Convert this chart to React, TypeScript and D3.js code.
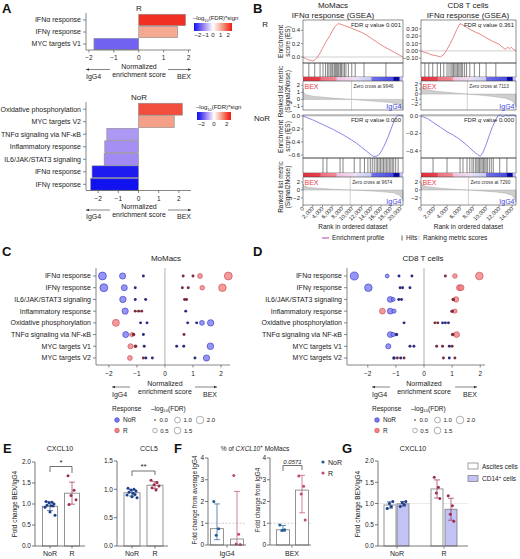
import React from "react";
import * as d3 from "d3";

const FONT = "'Liberation Sans', Arial, Helvetica, sans-serif";
const AX = "#555";

// ---------------- Panel A data ----------------
const aRTerms = ["IFNα response", "IFNγ response", "MYC targets V1"];
const aRNes = [1.88, 1.56, -1.8];
const aRSig = [2.3, 1.1, -1.6];
const aNoRTerms = [
  "Oxidative phosphorylation",
  "MYC targets V2",
  "TNFα signaling via NF-κB",
  "Inflammatory response",
  "IL6/JAK/STAT3 signaling",
  "IFNα response",
  "IFNγ response",
];
const aNoRNes = [2.17, 1.77, -1.57, -1.67, -1.7, -2.3, -2.37];
const aNoRSig = [2.0, 1.2, -1.0, -1.1, -1.15, -2.4, -2.5];
const aTicks = [-2, -1, 0, 1, 2];
const aLegTicksR = [-2, -1, 0, 1, 2];
const aLegTicksNoR = [-2, 0, 2];

// ---------------- Panel B data (GSEA) ----------------
const moRankMax = 20500;
const cd8RankMax = 14600;
const moRankTicks = [0, 2000, 4000, 6000, 8000, 10000, 12000, 14000, 16000, 18000, 20000];
const cd8RankTicks = [0, 2000, 4000, 6000, 8000, 10000, 12000, 14000];

const esRMo = [
  [0, 0], [500, -0.02], [1000, -0.04], [1500, -0.05], [2000, -0.06], [2500, -0.04], [3000, 0.0],
  [3500, 0.06], [4000, 0.13], [4500, 0.2], [5000, 0.26], [5500, 0.32], [6000, 0.39], [6500, 0.45],
  [7000, 0.49], [7300, 0.5], [7800, 0.49], [8500, 0.47], [9000, 0.46], [10000, 0.43], [11000, 0.4],
  [12000, 0.37], [13000, 0.33], [14000, 0.28], [15000, 0.23], [16000, 0.18], [17000, 0.14],
  [18000, 0.1], [19000, 0.06], [20000, 0.02], [20500, 0],
];
const esRCd8 = [
  [0, 0], [500, -0.02], [1000, -0.03], [1500, -0.05], [2000, -0.06], [2500, -0.07], [3000, -0.08],
  [3500, -0.05], [4000, 0.02], [4500, 0.1], [5000, 0.19], [5500, 0.29], [6000, 0.37], [6300, 0.36],
  [7000, 0.32], [8000, 0.27], [9000, 0.23], [10000, 0.18], [11000, 0.13], [12000, 0.09],
  [12500, 0.05], [13000, 0.02], [13300, 0.05], [13600, 0.03], [13900, 0.05], [14200, 0.02], [14600, 0],
];
const esNoRMo = [
  [0, 0], [2000, -0.06], [4000, -0.13], [6000, -0.2], [8000, -0.28], [10000, -0.37], [11000, -0.42],
  [12000, -0.48], [13000, -0.54], [14000, -0.6], [14500, -0.62], [15000, -0.62], [15500, -0.6],
  [16000, -0.55], [16500, -0.48], [17000, -0.4], [17500, -0.31], [18000, -0.21], [18500, -0.11],
  [19000, -0.03], [19300, 0.0], [19600, 0.01], [20000, 0.005], [20500, 0],
];
const esNoRCd8 = [
  [0, 0], [1000, -0.03], [2000, -0.08], [3000, -0.13], [4000, -0.18], [5000, -0.22], [6000, -0.27],
  [7000, -0.33], [8000, -0.4], [8700, -0.44], [9100, -0.46], [9500, -0.42], [10000, -0.33],
  [10500, -0.22], [11000, -0.12], [11500, -0.04], [11800, 0.0], [12200, 0.01], [12600, -0.01],
  [13000, 0.01], [13500, 0.0], [14000, 0.01], [14600, 0],
];
const hitsRMo = [1200, 2400, 3500, 4100, 4600, 5000, 5300, 5600, 5900, 6100, 6400, 6600, 6800, 7000,
  7200, 7400, 7700, 7900, 8200, 8500, 8800, 9300, 10000, 10700, 12500, 17000];
const hitsRCd8 = [600, 1200, 1800, 2500, 3000, 3500, 4000, 4300, 4600, 4800, 5000, 5200, 5400, 5600,
  5800, 6000, 6200, 6400, 6700, 7000, 7500, 8200, 9000, 10000, 11500];
const hitsNoRMo = [4100, 4900, 7600, 8200, 10500, 11700, 12600, 13300, 13800, 14200, 14600, 15000,
  15300, 15600, 15900, 16200, 16500, 16800, 17100, 17400, 17700, 18000, 18300, 18600, 19000, 19500];
const hitsNoRCd8 = [1850, 4000, 6000, 6450, 7070, 7500, 7840, 8100, 8400, 8600, 8800, 9000, 9200,
  9400, 9600, 9800, 10000, 10200, 10500, 10800, 11100, 12100, 13200];
const metRMo = [[0, 1.6], [100, 1.0], [500, 0.7], [2000, 0.45], [5000, 0.25], [8000, 0.08], [9946, 0],
  [12000, -0.12], [15000, -0.28], [18000, -0.45], [19500, -0.7], [20200, -1.2], [20500, -1.5]];
const metRCd8 = [[0, 2.3], [100, 1.5], [500, 1.0], [2000, 0.6], [4000, 0.35], [6000, 0.12], [7113, 0],
  [9000, -0.2], [11000, -0.45], [13000, -0.8], [14000, -1.3], [14400, -2.0], [14600, -2.5]];
const metNoRMo = [[0, 1.5], [200, 1.0], [1000, 0.7], [3000, 0.45], [6000, 0.2], [9674, 0], [13000, -0.2],
  [16000, -0.4], [18500, -0.7], [19800, -1.3], [20300, -2.2], [20500, -2.8]];
const metNoRCd8 = [[0, 1.8], [200, 1.2], [1000, 0.8], [3000, 0.45], [5500, 0.15], [7290, 0], [9500, -0.25],
  [11500, -0.5], [13000, -0.8], [14000, -1.3], [14400, -2.3], [14600, -3.0]];

// ---------------- Panels C / D data ----------------
const dTerms = [
  "IFNα response", "IFNγ response", "IL6/JAK/STAT3 signaling", "Inflammatory response",
  "Oxidative phosphorylation", "TNFα signaling via NF-κB", "MYC targets V1", "MYC targets V2",
];
// [term index, NES, -log10(FDR), group 0=NoR 1=R]
const cDots = [
  [0, -2.23, 2.2, 0], [0, -1.51, 1.2, 0], [0, -0.77, 0.1, 0], [0, 0.65, 0.1, 1], [0, 1.0, 0.1, 1], [0, 1.25, 0.6, 1], [0, 2.26, 2.2, 1],
  [1, -2.18, 2.2, 0], [1, -1.45, 1.1, 0], [1, -1.06, 0.1, 0], [1, 0.62, 0.1, 1], [1, 0.83, 0.1, 1], [1, 1.33, 0.5, 1], [1, 2.05, 2.0, 1],
  [2, -1.5, 1.3, 0], [2, -1.06, 0.1, 0], [2, -0.69, 0.1, 0], [2, 0.7, 0.1, 1], [2, 0.77, 0.1, 1],
  [3, -1.42, 1.2, 0], [3, -1.06, 0.1, 1], [3, -0.94, 0.1, 1], [3, -0.83, 0.1, 1], [3, 0.74, 0.1, 0],
  [4, -1.75, 1.6, 1], [4, -0.87, 0.1, 0], [4, -0.64, 0.1, 0], [4, 0.81, 0.1, 0], [4, 1.13, 0.1, 0], [4, 1.32, 0.6, 0], [4, 1.63, 1.3, 0],
  [5, -1.4, 1.1, 0], [5, -1.18, 0.4, 1], [5, -1.12, 0.2, 1], [5, -0.77, 0.1, 0], [5, 0.68, 0.1, 1],
  [6, -1.23, 0.7, 1], [6, -1.05, 0.2, 1], [6, -0.74, 0.1, 0], [6, 0.42, 0.1, 0], [6, 0.67, 0.1, 0], [6, 1.62, 1.4, 0],
  [7, -1.25, 0.6, 1], [7, -0.77, 0.1, 1], [7, -0.68, 0.1, 0], [7, -0.45, 0.1, 0], [7, 1.07, 0.1, 0], [7, 1.48, 1.2, 0],
];
const dDots = [
  [0, -2.48, 2.3, 0], [0, -1.31, 0.3, 0], [0, -0.89, 0.1, 0], [0, -0.43, 0.1, 0], [0, 0.76, 0.1, 1], [0, 1.1, 0.5, 1], [0, 1.97, 2.0, 1],
  [1, -1.98, 2.0, 0], [1, -0.85, 0.1, 0], [1, -0.76, 0.1, 0], [1, -0.5, 0.1, 0], [1, 1.26, 1.0, 1], [1, 1.32, 1.0, 1],
  [2, -1.2, 1.0, 0], [2, -1.1, 0.3, 0], [2, -0.9, 0.1, 0], [2, -0.8, 0.1, 0], [2, 1.04, 0.2, 1], [2, 1.14, 0.8, 1],
  [3, -1.48, 1.0, 1], [3, -1.2, 1.0, 0], [3, -1.07, 0.4, 0], [3, 1.0, 0.2, 1], [3, 1.1, 0.4, 1],
  [4, -0.71, 0.1, 0], [4, 0.39, 0.1, 1], [4, 0.49, 0.1, 1], [4, 0.66, 0.1, 0], [4, 0.76, 0.1, 0], [4, 0.87, 0.1, 0],
  [5, -1.2, 1.0, 0], [5, -1.1, 0.4, 0], [5, -0.98, 0.2, 0], [5, 1.02, 0.2, 1], [5, 1.16, 1.0, 1],
  [6, -1.27, 0.7, 0], [6, -0.5, 0.1, 0], [6, -0.36, 0.1, 0], [6, 0.45, 0.1, 1], [6, 0.66, 0.1, 1], [6, 0.9, 0.1, 0], [6, 1.0, 0.1, 1],
  [7, -1.07, 0.2, 0], [7, -0.95, 0.1, 1], [7, -0.83, 0.1, 0], [7, -0.71, 0.1, 1], [7, 0.69, 0.1, 1], [7, 0.9, 0.1, 0], [7, 1.1, 0.1, 1],
];
const sizeLegendRow1 = [0.0, 1.0, 2.0];
const sizeLegendRow2 = [0.5, 1.5];

// ---------------- Panels E / F / G data ----------------
const eCxcl10NoR = [1.06, 1.04, 1.03, 1.0, 0.97, 0.96, 0.95, 0.92, 0.81, 0.73];
const eCxcl10R = [1.67, 1.33, 1.2, 1.1, 0.99];
const eCcl5NoR = [1.02, 1.0, 0.99, 0.97, 0.95, 0.93, 0.91, 0.9, 0.87, 0.85];
const eCcl5R = [1.16, 1.12, 1.08, 1.06, 1.03, 0.99];
const fIgg4NoR = [2.0, 0.75, 0.45];
const fIgg4R = [3.2, 0.5, 0.05, 0.02];
const fBexNoR = [0.92, 0.7, 0.68];
const fBexR = [3.17, 2.7, 2.35, 1.15];
const gNoRAscites = [0.88, 0.93, 1.0, 1.05];
const gNoRCd14 = [0.93, 0.97, 1.02, 1.05];
const gRAscites = [1.62, 1.38, 1.25, 1.12];
const gRCd14 = [1.18, 0.95, 0.75, 0.58];
const eTicks2 = [0, 0.5, 1, 1.5, 2];
const eTicks15 = [0, 0.5, 1, 1.5];
const fTicks = [0, 1, 2, 3, 4];

const jitter = [-4, 2, -1, 4, -3, 1, 3, -5, 0, 5, -2];

const sigColor = d3
  .scaleLinear()
  .domain([-2.5, -1.2, 0, 1.2, 2.5])
  .range(["#1212f0", "#9d85f2", "#ffffff", "#f4a088", "#f01a10"] as any)
  .clamp(true) as any;

const NOR_C = "#1d3f8a";
const R_C = "#9c2f4c";

function Arrow({ x1, x2, y }: any) {
  const d = x2 > x1 ? 1 : -1;
  return (
    <g>
      <line x1={x1} x2={x2} y1={y} y2={y} stroke="#333" strokeWidth={0.6} />
      <path d={`M${x2},${y} l${-d * 3},-1.3 l0,2.6 z`} fill="#333" />
    </g>
  );
}

function Log10Label({ x, y, suffix, fs = 6.5, anchor = "start" }: any) {
  return (
    <text x={x} y={y} fontSize={fs} textAnchor={anchor}>
      –log<tspan fontSize={fs * 0.65} dy={1.5}>10</tspan>
      <tspan dy={-1.5}>{suffix}</tspan>
    </text>
  );
}

function BarEnrich(p: any) {
  const { terms, nes, sig, title, yTop, yBot, xDomain, legX0, legX1, legY, legDomain, legTicks, gid } = p;
  const x = d3.scaleLinear().domain(xDomain).range([86, 191]);
  const y = d3.scaleBand().domain(terms).range([yTop, yBot]).paddingInner(0.05).paddingOuter(0.02);
  const lx = d3.scaleLinear().domain(legDomain).range([legX0, legX1]);
  const stops = d3.range(0, 1.0001, 0.1).map((f: number) => ({
    f,
    c: sigColor(legDomain[0] + f * (legDomain[1] - legDomain[0])),
  }));
  const bw = y.bandwidth();
  return (
    <g>
      <defs>
        <linearGradient id={gid} x1="0" x2="1" y1="0" y2="0">
          {stops.map((s: any) => (
            <stop key={s.f} offset={s.f} stopColor={s.c} />
          ))}
        </linearGradient>
      </defs>
      <text x={139} y={yTop - 3.5} textAnchor="middle" fontSize={8}>{title}</text>
      {terms.map((t: string, i: number) => (
        <rect key={t} x={Math.min(x(0), x(nes[i]))} y={y(t)} width={Math.abs(x(nes[i]) - x(0))} height={bw}
          fill={sigColor(sig[i])} stroke="#8c8c8c" strokeWidth={0.6} />
      ))}
      <line x1={86} x2={86} y1={yTop - 1} y2={yBot} stroke={AX} strokeWidth={0.7} />
      {terms.map((t: string) => (
        <g key={t}>
          <line x1={83} x2={86} y1={y(t)! + bw / 2} y2={y(t)! + bw / 2} stroke={AX} strokeWidth={0.7} />
          <text x={81} y={y(t)! + bw / 2 + 2.4} textAnchor="end" fontSize={7}>{t}</text>
        </g>
      ))}
      <line x1={86} x2={191} y1={yBot} y2={yBot} stroke={AX} strokeWidth={0.7} />
      {aTicks.map((t) => (
        <g key={t}>
          <line x1={x(t)} x2={x(t)} y1={yBot} y2={yBot + 2.5} stroke={AX} strokeWidth={0.7} />
          <text x={x(t)} y={yBot + 10} textAnchor="middle" fontSize={6.5}>{t < 0 ? "−" + -t : t}</text>
        </g>
      ))}
      <text x={139} y={yBot + 18.5} textAnchor="middle" fontSize={7}>Normalized</text>
      <text x={139} y={yBot + 26.5} textAnchor="middle" fontSize={7}>enrichment score</text>
      <Arrow x1={110} x2={86} y={yBot + 19.5} />
      <Arrow x1={168} x2={191} y={yBot + 19.5} />
      <text x={86} y={yBot + 28.5} fontSize={7}>IgG4</text>
      <text x={191} y={yBot + 28.5} textAnchor="end" fontSize={7}>BEX</text>
      <Log10Label x={legX0 - 1} y={legY} suffix="(FDR)*sign" fs={6} />
      <rect x={legX0} y={legY + 3} width={legX1 - legX0} height={8} fill={`url(#${gid})`} />
      {legTicks.map((t: number) => (
        <text key={t} x={lx(t)} y={legY + 17} textAnchor="middle" fontSize={6}>{t < 0 ? "−" + -t : t}</text>
      ))}
    </g>
  );
}

const rankStops: [number, string][] = [
  [0, "#e0303a"], [0.17, "#e84050"], [0.18, "#f07080"], [0.33, "#f08894"], [0.34, "#f0c0e0"],
  [0.53, "#f0e0f0"], [0.54, "#e0e0f8"], [0.68, "#c8c8f4"], [0.69, "#7070e8"], [0.9, "#4a4ae0"],
  [0.91, "#0808a0"], [0.96, "#0808a0"], [0.97, "#c0c0f0"], [1, "#c0c0f0"],
];

function Gsea(p: any) {
  const { x0, x1, xMax, esTop, esBot, hitsBot, colBot, metBot, esDomain, esTicks, esFmt, metDomain, metTicks,
    curve, hits, metric, zeroCross, fdr, lineColor, xTicks, yTitles } = p;
  const xs = d3.scaleLinear().domain([0, xMax]).range([x0, x1]);
  const ys = d3.scaleLinear().domain(esDomain).range([esBot, esTop]);
  const ms = d3.scaleLinear().domain(metDomain).range([metBot, colBot]);
  const line = d3.line().x((d: any) => xs(d[0])).y((d: any) => ys(d[1]));
  const area = d3.area().x((d: any) => xs(d[0])).y0(ms(0)).y1((d: any) => ms(d[1]));
  const fmt = d3.format(esFmt);
  const w = x1 - x0;
  return (
    <g>
      <line x1={x0} x2={x1} y1={ys(0)} y2={ys(0)} stroke="#b0b0b0" strokeWidth={0.6} />
      <path d={line(curve as any) as string} fill="none" stroke={lineColor} strokeWidth={0.8} />
      <rect x={x0} y={esTop} width={w} height={esBot - esTop} fill="none" stroke="#444" strokeWidth={0.6} />
      <text x={x1 - 2} y={esTop + 7} textAnchor="end" fontSize={6}>FDR <tspan fontStyle="italic">q</tspan> value {fdr}</text>
      {esTicks.map((t: number) => (
        <g key={t}>
          <line x1={x0 - 2} x2={x0} y1={ys(t)} y2={ys(t)} stroke={AX} strokeWidth={0.6} />
          <text x={x0 - 3} y={ys(t) + 2} textAnchor="end" fontSize={6}>{fmt(t)}</text>
        </g>
      ))}
      {hits.map((h: number, i: number) => (
        <line key={i} x1={xs(h)} x2={xs(h)} y1={esBot} y2={hitsBot} stroke="#222" strokeWidth={0.55} />
      ))}
      <rect x={x0} y={esBot} width={w} height={hitsBot - esBot} fill="none" stroke="#444" strokeWidth={0.6} />
      <rect x={x0} y={hitsBot} width={w} height={colBot - hitsBot} fill="url(#rankGrad)" />
      <path d={area(metric as any) as string} fill="#cfcfcf" stroke="#9a9a9a" strokeWidth={0.4} />
      <line x1={xs(zeroCross)} x2={xs(zeroCross)} y1={colBot} y2={metBot} stroke="#b5b5b5" strokeWidth={0.6} />
      <rect x={x0} y={colBot} width={w} height={metBot - colBot} fill="none" stroke="#444" strokeWidth={0.6} />
      {metTicks.map((t: number) => (
        <g key={t}>
          <line x1={x0 - 2} x2={x0} y1={ms(t)} y2={ms(t)} stroke={AX} strokeWidth={0.6} />
          <text x={x0 - 3} y={ms(t) + 2} textAnchor="end" fontSize={6}>{t < 0 ? "−" + -t : t}</text>
        </g>
      ))}
      <text x={x0 + 1.5} y={colBot + 7.5} fontSize={7} fill="#e8404a">BEX</text>
      <text x={xs(zeroCross) + 2} y={colBot + 6.5} fontSize={4.8} fill="#333">Zero cross at {zeroCross}</text>
      <text x={x1 - 1.5} y={metBot - 1.5} textAnchor="end" fontSize={7} fill="#4444e0">IgG4</text>
      {yTitles && (
        <g fontSize={6.5}>
          <text transform={`translate(282.5,${(esTop + esBot) / 2}) rotate(-90)`} textAnchor="middle">Enrichment</text>
          <text transform={`translate(289.5,${(esTop + esBot) / 2}) rotate(-90)`} textAnchor="middle">score (ES)</text>
          <text transform={`translate(282.5,${(colBot + metBot) / 2 - 4}) rotate(-90)`} textAnchor="middle">Ranked list metric</text>
          <text transform={`translate(289.5,${(colBot + metBot) / 2 - 4}) rotate(-90)`} textAnchor="middle">(Signal2Noise)</text>
        </g>
      )}
      {xTicks &&
        xTicks.map((t: number) => (
          <g key={t}>
            <line x1={xs(t)} x2={xs(t)} y1={metBot} y2={metBot + 2} stroke={AX} strokeWidth={0.6} />
            <text transform={`translate(${xs(t) + 1.5},${metBot + 4}) rotate(-45)`} textAnchor="end" fontSize={5.6}>
              {d3.format(",")(t)}
            </text>
          </g>
        ))}
      {xTicks && (
        <text x={(x0 + x1) / 2} y={229} textAnchor="middle" fontSize={6.5}>Rank in ordered dataset</text>
      )}
    </g>
  );
}

const rScale = d3.scaleSqrt().domain([0, 2]).range([0.8, 3.8]).clamp(false);

function DotPlot(p: any) {
  const { dots, xDomain, x0, x1, title, titleX, arrL, arrR, legX } = p;
  const xs = d3.scaleLinear().domain(xDomain).range([x0, x1]);
  const ys = d3.scalePoint().domain(dTerms).range([276, 358]);
  const sorted = [...dots].sort((a: any, b: any) => b[2] - a[2]);
  const fillFor = (g: number, f: number) => (f < 0.3 ? (g === 0 ? "#2a2a80" : "#7a2a3a") : g === 0 ? "#7a7af2" : "#f08282");
  const strokeFor = (g: number) => (g === 0 ? "#3030c0" : "#c8404c");
  return (
    <g>
      <text x={titleX} y={261} textAnchor="middle" fontSize={8}>{title}</text>
      <line x1={xs(0)} x2={xs(0)} y1={268} y2={365} stroke="#9a9a9a" strokeWidth={0.8} />
      {sorted.map((d: any, i: number) => (
        <circle key={i} cx={xs(d[1])} cy={ys(dTerms[d[0]])} r={rScale(d[2])} fill={fillFor(d[3], d[2])}
          fillOpacity={d[2] < 0.3 ? 1 : 0.8} stroke={d[2] < 0.3 ? "none" : strokeFor(d[3])} strokeWidth={0.6} />
      ))}
      <line x1={x0} x2={x0} y1={268} y2={365} stroke={AX} strokeWidth={0.7} />
      {dTerms.map((t) => (
        <g key={t}>
          <line x1={x0 - 3} x2={x0} y1={ys(t)} y2={ys(t)} stroke={AX} strokeWidth={0.7} />
          <text x={x0 - 5} y={ys(t)! + 2.4} textAnchor="end" fontSize={7}>{t}</text>
        </g>
      ))}
      <line x1={x0} x2={x1} y1={365} y2={365} stroke={AX} strokeWidth={0.7} />
      {[-2, -1, 0, 1, 2].map((t) => (
        <g key={t}>
          <line x1={xs(t)} x2={xs(t)} y1={365} y2={367.5} stroke={AX} strokeWidth={0.7} />
          <text x={xs(t)} y={375.5} textAnchor="middle" fontSize={6.5}>{t < 0 ? "−" + -t : t}</text>
        </g>
      ))}
      <text x={xs(0)} y={386} textAnchor="middle" fontSize={7}>Normalized</text>
      <text x={xs(0)} y={394} textAnchor="middle" fontSize={7}>enrichment score</text>
      <Arrow x1={arrL + 18} x2={arrL} y={387} />
      <Arrow x1={arrR - 22} x2={arrR} y={387} />
      <text x={arrL} y={396.5} fontSize={7}>IgG4</text>
      <text x={arrR} y={396.5} textAnchor="end" fontSize={7}>BEX</text>
      <text x={legX} y={410.5} fontSize={6.5}>Response</text>
      <circle cx={legX + 5} cy={420} r={2.3} fill="#7a7af2" stroke="#3030c0" strokeWidth={0.6} />
      <text x={legX + 11} y={422.3} fontSize={6.5}>NoR</text>
      <circle cx={legX + 5} cy={430.5} r={2.3} fill="#f08282" stroke="#c8404c" strokeWidth={0.6} />
      <text x={legX + 11} y={432.8} fontSize={6.5}>R</text>
      <Log10Label x={legX + 39} y={410.5} suffix="(FDR)" fs={6.5} />
      {sizeLegendRow1.map((v, i) => (
        <g key={v}>
          {v === 0 ? (
            <g stroke="#444" strokeWidth={0.6}>
              <line x1={legX + 42} x2={legX + 44} y1={420} y2={420} />
              <line x1={legX + 43} x2={legX + 43} y1={419} y2={421} />
            </g>
          ) : (
            <circle cx={legX + 43 + i * 22.5} cy={420} r={rScale(v)} fill="#fff" stroke="#777" strokeWidth={0.6} />
          )}
          <text x={legX + 47.5 + i * 22.5 + (i > 0 ? rScale(v) - 1.5 : 0)} y={422.3} fontSize={6}>{v.toFixed(1)}</text>
        </g>
      ))}
      {sizeLegendRow2.map((v, i) => (
        <g key={v}>
          <circle cx={legX + 43 + i * 22.5} cy={430.5} r={rScale(v)} fill="#fff" stroke="#777" strokeWidth={0.6} />
          <text x={legX + 47.5 + i * 22.5 + rScale(v) - 1.5} y={432.8} fontSize={6}>{v.toFixed(1)}</text>
        </g>
      ))}
    </g>
  );
}

function YAxis({ x, scale, ticks, fmt }: any) {
  const [a, b] = scale.domain();
  return (
    <g>
      <line x1={x} x2={x} y1={scale(a)} y2={scale(b)} stroke={AX} strokeWidth={0.8} />
      {ticks.map((t: number) => (
        <g key={t}>
          <line x1={x - 3} x2={x} y1={scale(t)} y2={scale(t)} stroke={AX} strokeWidth={0.8} />
          <text x={x - 4} y={scale(t) + 2.3} textAnchor="end" fontSize={6.5}>{fmt(t)}</text>
        </g>
      ))}
    </g>
  );
}

function BarGroup({ cx, w, vals, scale, stat, color, fill, jit }: any) {
  const mean = d3.mean(vals) as number;
  const sd = d3.deviation(vals) as number;
  const h = stat === "median" ? (d3.median(vals) as number) : mean;
  const lo = mean - sd;
  const hi = mean + sd;
  const base = scale(0);
  return (
    <g>
      <rect x={cx - w / 2} y={scale(h)} width={w} height={base - scale(h)} fill={fill} stroke="#7a7a7a" strokeWidth={0.8} />
      <line x1={cx} x2={cx} y1={scale(Math.max(lo, 0))} y2={scale(hi)} stroke={color} strokeWidth={0.7} />
      <line x1={cx - 3} x2={cx + 3} y1={scale(hi)} y2={scale(hi)} stroke={color} strokeWidth={0.7} />
      {lo > 0 && <line x1={cx - 3} x2={cx + 3} y1={scale(lo)} y2={scale(lo)} stroke={color} strokeWidth={0.7} />}
      {vals.map((v: number, i: number) => (
        <circle key={i} cx={cx + jit * jitter[i % jitter.length]} cy={scale(v)} r={1.5} fill={color} />
      ))}
    </g>
  );
}

function XAxisCat({ x0, x1, y, labels }: any) {
  return (
    <g>
      <line x1={x0} x2={x1} y1={y} y2={y} stroke={AX} strokeWidth={0.8} />
      {labels.map((l: any) => (
        <g key={l[0]}>
          <line x1={l[1]} x2={l[1]} y1={y} y2={y + 2.5} stroke={AX} strokeWidth={0.8} />
          <text x={l[1]} y={555.5} textAnchor="middle" fontSize={7}>{l[0]}</text>
        </g>
      ))}
    </g>
  );
}

function Bracket({ xa, xb, y, la, lb, label, italic }: any) {
  return (
    <g>
      <path d={`M${xa},${la} V${y} H${xb} V${lb}`} fill="none" stroke="#333" strokeWidth={0.7} />
      <text x={(xa + xb) / 2} y={y - 2} textAnchor="middle" fontSize={italic ? 6 : 8} fontStyle={italic ? "italic" : "normal"}>{label}</text>
    </g>
  );
}

export default function App() {
  const f1 = d3.format(".1f");
  const fInt = d3.format("d");
  const yE1 = d3.scaleLinear().domain([0, 2]).range([546, 462]);
  const yE2 = d3.scaleLinear().domain([0, 1.5]).range([546, 461]);
  const yF = d3.scaleLinear().domain([0, 4]).range([545, 458]);
  const yG = d3.scaleLinear().domain([0, 2]).range([546, 461]);
  return (
    <svg width={520} height={559} style={{ position: "absolute", left: 0, top: 0, background: "#fff" }}
      fontFamily={FONT} fill="#222">
      <defs>
        <linearGradient id="rankGrad" x1="0" x2="1" y1="0" y2="0">
          {rankStops.map((s, i) => (
            <stop key={i} offset={s[0]} stopColor={s[1]} />
          ))}
        </linearGradient>
      </defs>
      <rect width={520} height={559} fill="#fff" />
      {/* Panel letters */}
      <g fontSize={13} fontWeight="bold" fill="#111">
        <text x={2} y={13}>A</text>
        <text x={253} y={13}>B</text>
        <text x={2} y={256}>C</text>
        <text x={253} y={256}>D</text>
        <text x={3} y={453}>E</text>
        <text x={174} y={453}>F</text>
        <text x={342} y={453}>G</text>
      </g>

      {/* Panel A */}
      <BarEnrich terms={aRTerms} nes={aRNes} sig={aRSig} title="R" yTop={14} yBot={50} xDomain={[-2.12, 2.1]}
        legX0={194} legX1={232} legY={20} legDomain={[-2.5, 2.5]} legTicks={aLegTicksR} gid="gradAR" />
      <BarEnrich terms={aNoRTerms} nes={aNoRNes} sig={aNoRSig} title="NoR" yTop={103} yBot={190.5} xDomain={[-2.6, 2.6]}
        legX0={197} legX1={231} legY={109} legDomain={[-2.7, 2.7]} legTicks={aLegTicksNoR} gid="gradANoR" />

      {/* Panel B */}
      <text x={333} y={8} textAnchor="middle" fontSize={8}>MoMacs</text>
      <text x={333} y={18} textAnchor="middle" fontSize={8}>IFNα response (GSEA)</text>
      <text x={468} y={8} textAnchor="middle" fontSize={8}>CD8 T cells</text>
      <text x={468} y={18} textAnchor="middle" fontSize={8}>IFNα response (GSEA)</text>
      <text x={268} y={27} textAnchor="end" fontSize={8}>R</text>
      <text x={270} y={121} textAnchor="end" fontSize={8}>NoR</text>
      <Gsea x0={303} x1={403} xMax={moRankMax} esTop={20} esBot={63} hitsBot={77} colBot={81} metBot={110}
        esDomain={[-0.09, 0.555]} esTicks={[0, 0.2, 0.4]} esFmt=".1f" metDomain={[-1.5, 2.6]} metTicks={[2, 1, 0, -1]}
        curve={esRMo} hits={hitsRMo} metric={metRMo} zeroCross={9946} fdr="0.001" lineColor="#e06868" yTitles />
      <Gsea x0={421} x1={516} xMax={cd8RankMax} esTop={20} esBot={63} hitsBot={77} colBot={81} metBot={110}
        esDomain={[-0.165, 0.42]} esTicks={[-0.1, 0, 0.1, 0.2, 0.3]} esFmt=".2f" metDomain={[-3.1, 2.55]} metTicks={[2, 1, 0, -1, -2]}
        curve={esRCd8} hits={hitsRCd8} metric={metRCd8} zeroCross={7113} fdr="0.361" lineColor="#e06868" />
      <Gsea x0={303} x1={403} xMax={moRankMax} esTop={115} esBot={158} hitsBot={173} colBot={177} metBot={205}
        esDomain={[-0.646, 0.015]} esTicks={[0, -0.2, -0.4, -0.6]} esFmt=".1f" metDomain={[-3.75, 3.25]} metTicks={[2, 0, -2]}
        curve={esNoRMo} hits={hitsNoRMo} metric={metNoRMo} zeroCross={9674} fdr="0.000" lineColor="#6a6ae6"
        xTicks={moRankTicks} yTitles />
      <Gsea x0={421} x1={516} xMax={cd8RankMax} esTop={115} esBot={158} hitsBot={173} colBot={177} metBot={205}
        esDomain={[-0.48, 0.011]} esTicks={[0, -0.2, -0.4]} esFmt=".1f" metDomain={[-3.75, 3.25]} metTicks={[2, 0, -2]}
        curve={esNoRCd8} hits={hitsNoRCd8} metric={metNoRCd8} zeroCross={7290} fdr="0.000" lineColor="#6a6ae6"
        xTicks={cd8RankTicks} />
      {/* B legend */}
      <g fontSize={6.5}>
        <line x1={322} x2={329} y1={238} y2={238} stroke="#d8a0d8" strokeWidth={2} />
        <text x={332} y={240.3}>Enrichment profile</text>
        <line x1={402} x2={402} y1={235.5} y2={240.5} stroke="#222" strokeWidth={0.7} />
        <text x={406} y={240.3}>Hits</text>
        <line x1={419} x2={419} y1={235.5} y2={240.5} stroke="#bbb" strokeWidth={0.7} />
        <text x={423} y={240.3}>Ranking metric scores</text>
      </g>

      {/* Panels C and D */}
      <DotPlot dots={cDots} xDomain={[-2.46, 2.32]} x0={96} x1={230} title="MoMacs" titleX={166} arrL={112} arrR={217} legX={112} />
      <DotPlot dots={dDots} xDomain={[-2.74, 2.17]} x0={347} x1={485} title="CD8 T cells" titleX={423} arrL={372} arrR={477} legX={372} />

      {/* Panel E */}
      <text x={60} y={450.5} textAnchor="middle" fontSize={7}>CXCL10</text>
      <text x={149} y={450.5} textAnchor="middle" fontSize={7}>CCL5</text>
      <text transform="translate(17,504) rotate(-90)" textAnchor="middle" fontSize={6.5}>Fold change BEX/IgG4</text>
      <BarGroup cx={50} w={15} vals={eCxcl10NoR} scale={yE1} stat="mean" color={NOR_C} fill="#fff" jit={1} />
      <BarGroup cx={72} w={15} vals={eCxcl10R} scale={yE1} stat="mean" color={R_C} fill="#fff" jit={1} />
      <YAxis x={35} scale={yE1} ticks={eTicks2} fmt={f1} />
      <XAxisCat x0={35} x1={85} y={546} labels={[["NoR", 50], ["R", 72]]} />
      <Bracket xa={50} xb={72} y={466.5} la={472} lb={473} label="*" />
      <BarGroup cx={132} w={16} vals={eCcl5NoR} scale={yE2} stat="mean" color={NOR_C} fill="#fff" jit={1} />
      <BarGroup cx={155} w={16} vals={eCcl5R} scale={yE2} stat="mean" color={R_C} fill="#fff" jit={1} />
      <YAxis x={117} scale={yE2} ticks={eTicks15} fmt={f1} />
      <XAxisCat x0={117} x1={168} y={546} labels={[["NoR", 132], ["R", 155]]} />
      <Bracket xa={132} xb={155} y={471} la={476} lb={475} label="**" />

      {/* Panel F */}
      <text x={255} y={450.5} textAnchor="middle" fontSize={6.5}>
        % of <tspan fontStyle="italic">CXCL10</tspan>
        <tspan fontSize={4.5} dy={-2.5}>+</tspan>
        <tspan dy={2.5}> MoMacs</tspan>
      </text>
      <text transform="translate(197,500) rotate(-90)" textAnchor="middle" fontSize={6.3}>Fold change from average IgG4</text>
      <text transform="translate(260,500) rotate(-90)" textAnchor="middle" fontSize={6.3}>Fold change from IgG4</text>
      <line x1={208} x2={246} y1={yF(1)} y2={yF(1)} stroke="#bbb" strokeWidth={0.7} strokeDasharray="2,1.5" />
      <line x1={270} x2={311} y1={yF(1)} y2={yF(1)} stroke="#bbb" strokeWidth={0.7} strokeDasharray="2,1.5" />
      <BarGroup cx={217} w={13} vals={fIgg4NoR} scale={yF} stat="median" color="#215d94" fill="#fff" jit={0.8} />
      <BarGroup cx={237} w={13} vals={fIgg4R} scale={yF} stat="median" color="#c04a72" fill="#fff" jit={0.8} />
      <YAxis x={208} scale={yF} ticks={fTicks} fmt={fInt} />
      <XAxisCat x0={208} x1={246} y={545} labels={[["IgG4", 227]]} />
      <BarGroup cx={283} w={13} vals={fBexNoR} scale={yF} stat="median" color="#215d94" fill="#fff" jit={0.8} />
      <BarGroup cx={302} w={13} vals={fBexR} scale={yF} stat="median" color="#c04a72" fill="#fff" jit={0.8} />
      <YAxis x={270} scale={yF} ticks={fTicks} fmt={fInt} />
      <XAxisCat x0={270} x1={311} y={545} labels={[["BEX", 292]]} />
      <Bracket xa={283} xb={302} y={465.5} la={471} lb={470} label="0.0571" italic />
      <circle cx={323} cy={462} r={1.6} fill="#215d94" />
      <text x={328} y={464.5} fontSize={7}>NoR</text>
      <circle cx={323} cy={473} r={1.6} fill="#c04a72" />
      <text x={328} y={475.5} fontSize={7}>R</text>

      {/* Panel G */}
      <text x={413} y={450.5} textAnchor="middle" fontSize={7}>CXCL10</text>
      <text transform="translate(360,504) rotate(-90)" textAnchor="middle" fontSize={6.5}>Fold change BEX/IgG4</text>
      <line x1={378} x2={468} y1={yG(1)} y2={yG(1)} stroke="#e2e2e2" strokeWidth={0.7} />
      <BarGroup cx={390} w={12} vals={gNoRAscites} scale={yG} stat="mean" color={NOR_C} fill="#fff" jit={0.7} />
      <BarGroup cx={403} w={12} vals={gNoRCd14} scale={yG} stat="mean" color={NOR_C} fill="#c2c2f4" jit={0.7} />
      <BarGroup cx={437} w={12} vals={gRAscites} scale={yG} stat="mean" color={R_C} fill="#fff" jit={0.7} />
      <BarGroup cx={451} w={12} vals={gRCd14} scale={yG} stat="mean" color={R_C} fill="#c2c2f4" jit={0.7} />
      <YAxis x={378} scale={yG} ticks={eTicks2} fmt={f1} />
      <XAxisCat x0={378} x1={468} y={546} labels={[["NoR", 397], ["R", 444]]} />
      <rect x={468} y={463} width={10} height={6} fill="#fff" stroke="#777" strokeWidth={0.7} />
      <text x={482} y={468.5} fontSize={6.5}>Ascites cells</text>
      <rect x={468} y={475.5} width={10} height={6} fill="#c2c2f4" stroke="#777" strokeWidth={0.7} />
      <text x={482} y={481} fontSize={6.5}>
        CD14<tspan fontSize={4.5} dy={-2.5}>+</tspan>
        <tspan dy={2.5}> cells</tspan>
      </text>
    </svg>
  );
}
